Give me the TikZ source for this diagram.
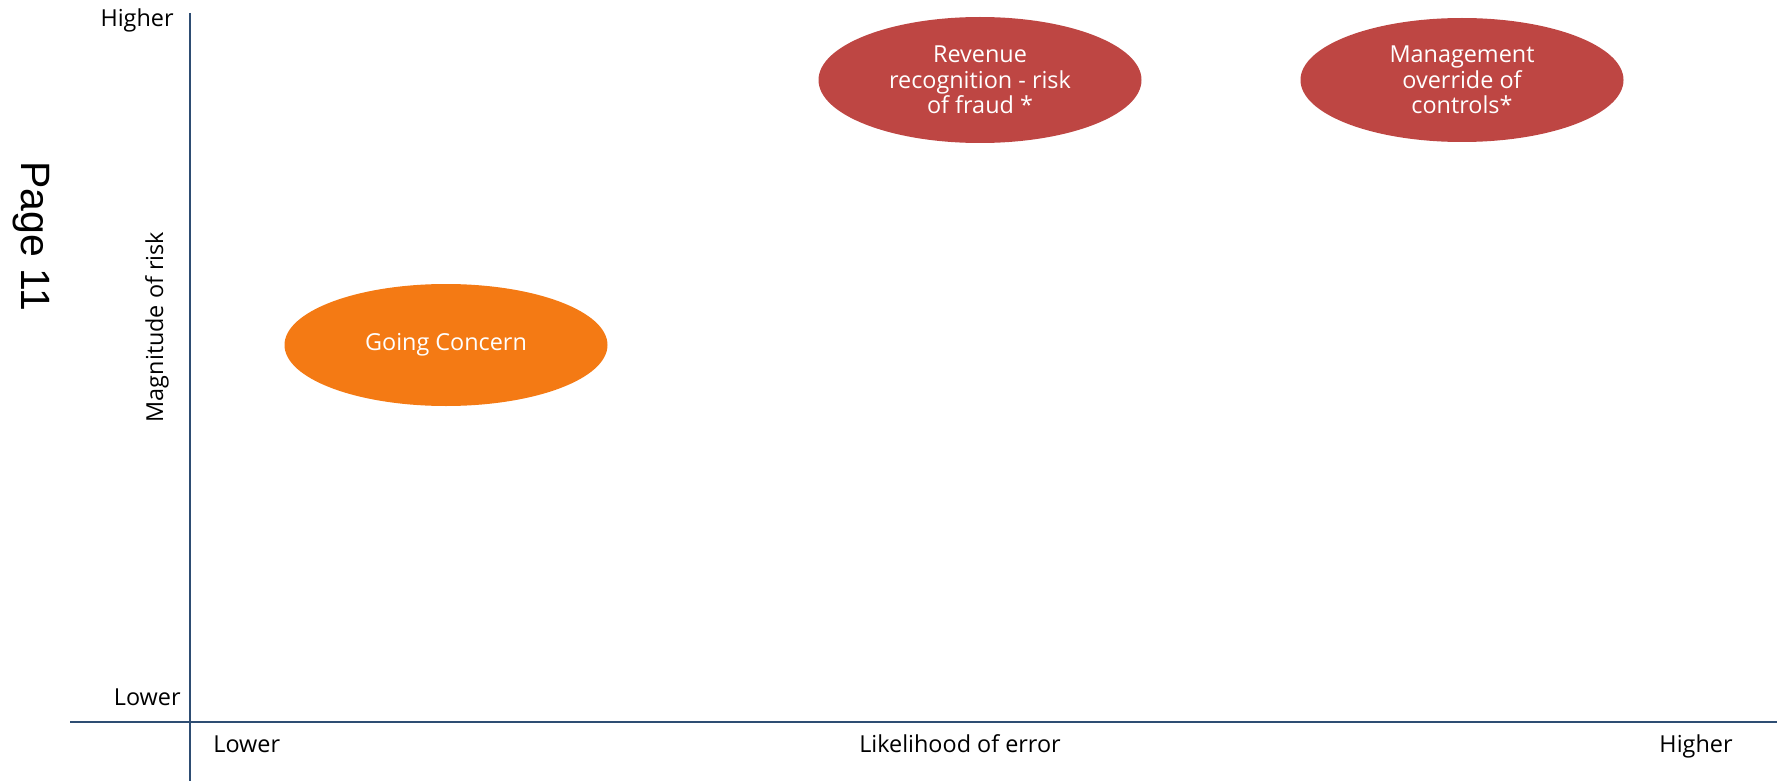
\documentclass[tikz,border=0pt]{standalone}
\usepackage{fontspec}
\setmainfont{Open Sans}
\newfontfamily\pagefont{Liberation Sans}
\usepackage{xcolor}
\usetikzlibrary{shapes.geometric}

\definecolor{axisblue}{HTML}{2E4D73}
\definecolor{riskred}{HTML}{BE4643}
\definecolor{riskorange}{HTML}{F47A14}

\begin{document}
\begin{tikzpicture}[x=0.5pt, y=-0.5pt,
        axisline/.style={draw=axisblue, line width=1.2pt},
        riskblob/.style={ellipse, inner sep=0pt, minimum width=161.5pt, minimum height=62pt,
            text=white, align=center, font=\fontsize{11.7}{12.8}\selectfont},
        lbl/.style={inner sep=0pt, font=\fontsize{11.7}{14}\selectfont}]
        \useasboundingbox (0,0) rectangle (1777,781);

        % axes
        \coordinate (ytop) at (190,13);
        \coordinate (ybot) at (190,781);
        \coordinate (xleft) at (70,722);
        \coordinate (xright) at (1777,722);
        \draw[axisline] (ytop) -- (ybot);
        \draw[axisline] (xleft) -- (xright);

        % axis labels
        \node[lbl, anchor=base east] (yhigh) at (174,27) {Higher};
        \node[lbl, anchor=base east] (ylow) at (181,705) {Lower};
        \node[lbl, rotate=90] (ytitle) at (157,327) {Magnitude of risk};
        \node[lbl, anchor=base west] (xlow) at (213,752) {Lower};
        \node[lbl, anchor=base] (xtitle) at (960,752) {Likelihood of error};
        \node[lbl, anchor=base] (xhigh) at (1696,752) {Higher};
        \node[inner sep=0pt, rotate=-90, font=\pagefont\fontsize{20.5}{24}\selectfont] (page) at (31,236) {Page 11};

        % risks
        \node[riskblob, fill=riskred, minimum height=63pt] (revenue) at (980,80) {Revenue\\recognition - risk\\of fraud *};
        \node[riskblob, fill=riskred] (override) at (1462,80) {Management\\override of\\controls*};
        \node[riskblob, fill=riskorange, minimum height=61pt] (going) at (446,345) {Going Concern};
    \end{tikzpicture}
\end{document}
